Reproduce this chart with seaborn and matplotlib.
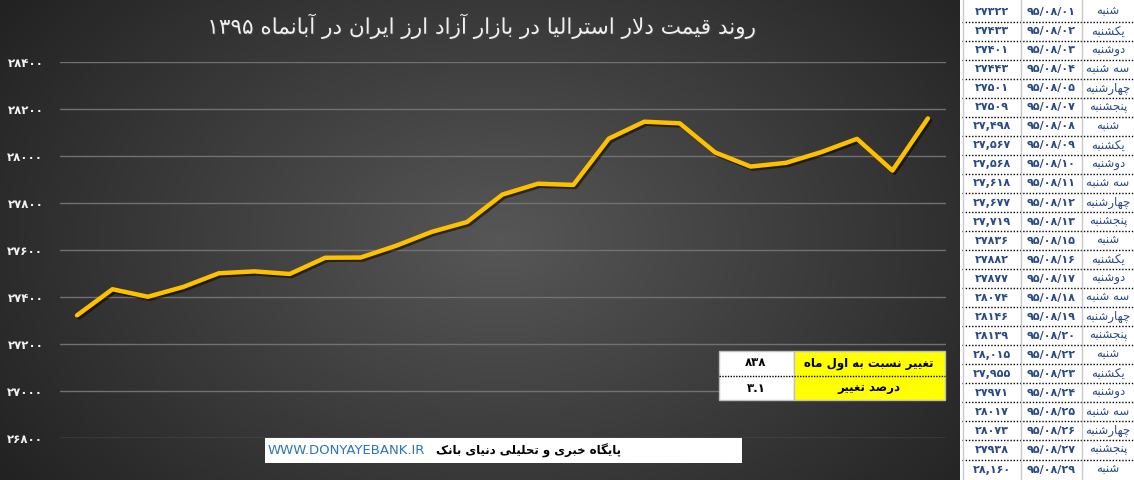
import re
import numpy as np
import pandas as pd
import matplotlib
matplotlib.use("Agg")
import matplotlib.pyplot as plt
import matplotlib.patheffects as pe
from matplotlib.patches import Rectangle
import seaborn as sns

# ---- data ----
dates = ["95/08/01", "95/08/02", "95/08/03", "95/08/04", "95/08/05", "95/08/07",
         "95/08/08", "95/08/09", "95/08/10", "95/08/11", "95/08/12", "95/08/13",
         "95/08/15", "95/08/16", "95/08/17", "95/08/18", "95/08/19", "95/08/20",
         "95/08/22", "95/08/23", "95/08/24", "95/08/25", "95/08/26", "95/08/27",
         "95/08/29"]
days = ["شنبه", "یکشنبه", "دوشنبه", "سه شنبه", "چهارشنبه", "پنجشنبه",
        "شنبه", "یکشنبه", "دوشنبه", "سه شنبه", "چهارشنبه", "پنجشنبه",
        "شنبه", "یکشنبه", "دوشنبه", "سه شنبه", "چهارشنبه", "پنجشنبه",
        "شنبه", "یکشنبه", "دوشنبه", "سه شنبه", "چهارشنبه", "پنجشنبه",
        "شنبه"]
prices = [27322, 27433, 27401, 27443, 27501, 27509, 27498, 27567, 27568, 27618,
          27677, 27719, 27836, 27882, 27877, 28074, 28146, 28139, 28015, 27955,
          27971, 28017, 28073, 27938, 28160]
# rows whose value is written with a thousands separator in the table
comma_rows = [6, 7, 8, 9, 10, 11, 18, 19, 24]
y_ticks = [26800, 27000, 27200, 27400, 27600, 27800, 28000, 28200, 28400]

title = "روند قیمت دلار استرالیا در بازار آزاد ارز ایران در آبانماه ۱۳۹۵"
change_label = "تغییر نسبت به اول ماه"
percent_label = "درصد تغییر"
site_label = "پایگاه خبری و تحلیلی دنیای بانک"
site_url = "WWW.DONYAYEBANK.IR"

change = prices[-1] - prices[0]
percent = round(change / prices[0] * 100, 1)

# ---- tiny arabic/persian shaper (matplotlib has no text shaping) ----
FORMS = {
    "ا": (0xFE8D, 0xFE8E), "آ": (0xFE81, 0xFE82), "د": (0xFEA9, 0xFEAA),
    "ذ": (0xFEAB, 0xFEAC), "ر": (0xFEAD, 0xFEAE), "ز": (0xFEAF, 0xFEB0),
    "ژ": (0xFB8A, 0xFB8B), "و": (0xFEED, 0xFEEE),
    "ب": (0xFE8F, 0xFE90, 0xFE91, 0xFE92), "پ": (0xFB56, 0xFB57, 0xFB58, 0xFB59),
    "ت": (0xFE95, 0xFE96, 0xFE97, 0xFE98), "ث": (0xFE99, 0xFE9A, 0xFE9B, 0xFE9C),
    "ج": (0xFE9D, 0xFE9E, 0xFE9F, 0xFEA0), "چ": (0xFB7A, 0xFB7B, 0xFB7C, 0xFB7D),
    "ح": (0xFEA1, 0xFEA2, 0xFEA3, 0xFEA4), "خ": (0xFEA5, 0xFEA6, 0xFEA7, 0xFEA8),
    "س": (0xFEB1, 0xFEB2, 0xFEB3, 0xFEB4), "ش": (0xFEB5, 0xFEB6, 0xFEB7, 0xFEB8),
    "ص": (0xFEB9, 0xFEBA, 0xFEBB, 0xFEBC), "ض": (0xFEBD, 0xFEBE, 0xFEBF, 0xFEC0),
    "ط": (0xFEC1, 0xFEC2, 0xFEC3, 0xFEC4), "ظ": (0xFEC5, 0xFEC6, 0xFEC7, 0xFEC8),
    "ع": (0xFEC9, 0xFECA, 0xFECB, 0xFECC), "غ": (0xFECD, 0xFECE, 0xFECF, 0xFED0),
    "ف": (0xFED1, 0xFED2, 0xFED3, 0xFED4), "ق": (0xFED5, 0xFED6, 0xFED7, 0xFED8),
    "ک": (0xFB8E, 0xFB8F, 0xFB90, 0xFB91), "گ": (0xFB92, 0xFB93, 0xFB94, 0xFB95),
    "ل": (0xFEDD, 0xFEDE, 0xFEDF, 0xFEE0), "م": (0xFEE1, 0xFEE2, 0xFEE3, 0xFEE4),
    "ن": (0xFEE5, 0xFEE6, 0xFEE7, 0xFEE8), "ه": (0xFEE9, 0xFEEA, 0xFEEB, 0xFEEC),
    "ی": (0xFBFC, 0xFBFD, 0xFBFE, 0xFBFF),
}
LAM_ALEF = {"ا": (0xFEFB, 0xFEFC), "آ": (0xFEF5, 0xFEF6)}


def dual(c):
    return c in FORMS and len(FORMS[c]) == 4


def shape(s):
    out = []
    i = 0
    while i < len(s):
        c = s[i]
        prev = s[i - 1] if i > 0 else ""
        nxt = s[i + 1] if i + 1 < len(s) else ""
        if c not in FORMS:
            out.append(c)
            i += 1
            continue
        joined_prev = dual(prev) and not (prev == "ل" and c in LAM_ALEF)
        if c == "ل" and nxt in LAM_ALEF:
            out.append(chr(LAM_ALEF[nxt][1 if joined_prev else 0]))
            i += 2
            continue
        joins_next = dual(c) and nxt in FORMS
        f = FORMS[c]
        if joined_prev and joins_next:
            code = f[3]
        elif joined_prev:
            code = f[1]
        elif joins_next:
            code = f[2]
        else:
            code = f[0]
        out.append(chr(code))
        i += 1
    return "".join(out)


def rtl(s):
    vis = shape(s)[::-1]
    # digit runs keep left-to-right order
    return re.sub(r"[0-9\u06F0-\u06F9.,/]+", lambda m: m.group(0)[::-1], vis)


def fa(text):
    return str(text).translate(str.maketrans("0123456789", "۰۱۲۳۴۵۶۷۸۹"))


df = pd.DataFrame({"idx": range(len(prices)), "price": prices,
                   "date": dates, "day": days})

# ---- figure ----
sns.set_theme(style="dark")
plt.rcParams["font.family"] = ["DejaVu Sans"]

W, H = 1134, 480
fig = plt.figure(figsize=(W / 100, H / 100), dpi=100)
fig.patch.set_facecolor("white")

# radial grey background of the chart area
bg = fig.add_axes([0, 0, 960 / W, 1])
yy, xx = np.mgrid[0:H, 0:960]
r = np.sqrt(((xx - 500) / 560) ** 2 + ((yy - 240) / 380) ** 2)
shade = np.clip(0.34 - 0.19 * r, 0.12, 0.34)
bg.imshow(np.dstack([shade, shade, shade]), aspect="auto",
          extent=[0, 960, H, 0], interpolation="bilinear")
bg.set_axis_off()

ax = fig.add_axes([60 / W, (H - 438) / H, (946 - 60) / W, (438 - 62) / H])
ax.set_facecolor("none")
sns.lineplot(data=df, x="idx", y="price", ax=ax, color="#FFC000", lw=3.2,
             path_effects=[pe.SimpleLineShadow(offset=(1.5, -1.5), alpha=0.5,
                                               shadow_color="black"),
                           pe.Normal()])
ax.set_xlim(-0.48, len(prices) - 0.49)
ax.set_ylim(y_ticks[0], y_ticks[-1])
ax.set_yticks(y_ticks)
ax.set_yticklabels([fa(v) for v in y_ticks], color="#f2f2f2",
                   fontweight="bold", fontsize=8.5)
ax.set_xticks([])
ax.tick_params(axis="y", length=0, pad=12)
ax.grid(axis="y", color="#717171", lw=1)
ax.grid(axis="x", visible=False)
for sp in ax.spines.values():
    sp.set_visible(False)
ax.set_xlabel("")
ax.set_ylabel("")

# overlay in pixel units for the boxes and the side table
ov = fig.add_axes([0, 0, 1, 1])
ov.set_xlim(0, W)
ov.set_ylim(H, 0)
ov.set_facecolor("none")
ov.set_axis_off()

ov.text(481, 26, rtl(title), color="#f0f0f0", fontsize=15.5,
        ha="center", va="center",
        path_effects=[pe.withSimplePatchShadow(offset=(1, -1), alpha=0.6)])

# yellow change box
ov.add_patch(Rectangle((719, 351), 75, 49, fc="white", ec="#bfbfbf", lw=1))
ov.add_patch(Rectangle((794, 351), 151, 49, fc="#FFFF00", ec="#bfbfbf", lw=1))
ov.plot([719, 945], [375.5, 375.5], color="black", lw=1, ls=(0, (1, 1)))
ov.text(869, 363, rtl(change_label), fontsize=8.5, fontweight="bold",
        ha="center", va="center", color="black")
ov.text(869, 388, rtl(percent_label), fontsize=8.5, fontweight="bold",
        ha="center", va="center", color="black")
ov.text(756, 363, fa(change), fontsize=8.5, fontweight="bold",
        ha="center", va="center", color="black")
ov.text(756, 388, fa(percent), fontsize=8.5, fontweight="bold",
        ha="center", va="center", color="black")

# website strip
ov.add_patch(Rectangle((265, 438), 477, 25, fc="white", ec="none"))
ov.text(268, 451, site_url, fontsize=9.5, color="#2E75B6",
        ha="left", va="center")
ov.text(529, 451, rtl(site_label), fontsize=8.5, fontweight="bold",
        color="black", ha="center", va="center")

# side table
ov.add_patch(Rectangle((960, 0), W - 960, H, fc="white", ec="none"))
dividers = np.linspace(21.7, 459.5, len(prices) - 1)
edges = np.concatenate([[2], dividers, [480]])
for y in dividers:
    ov.plot([962, W], [y, y], color="black", lw=1, ls=(0, (1, 1.3)))
for x in (963, 1021, 1082):
    ov.plot([x, x], [0, H], color="#c8c8c8", lw=1)
tcol = "#2a4a86"
for i, row in df.iterrows():
    yc = (edges[i] + edges[i + 1]) / 2
    v = f"{row.price:,}" if i in comma_rows else str(row.price)
    ov.text(992, yc, fa(v), fontsize=8, fontweight="bold", color=tcol,
            ha="center", va="center")
    ov.text(1051, yc, fa(row.date), fontsize=8, fontweight="bold",
            color=tcol, ha="center", va="center")
    ov.text(1108, yc, rtl(row.day), fontsize=8.5, color=tcol,
            ha="center", va="center")

fig.savefig("out.png", dpi=100)
